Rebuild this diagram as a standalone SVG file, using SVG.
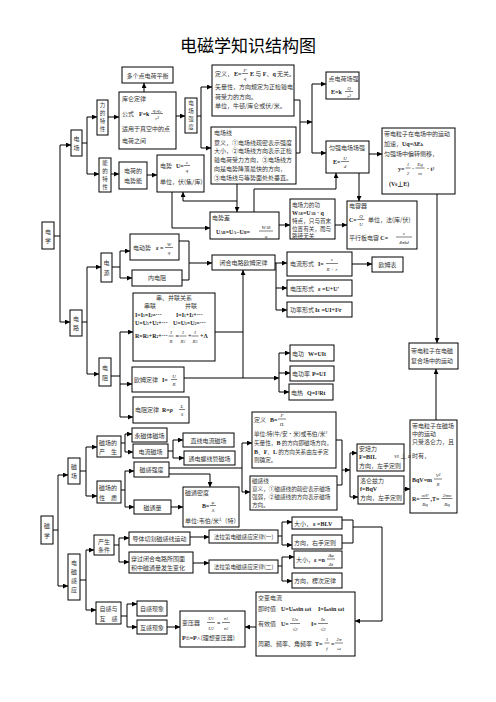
<svg xmlns="http://www.w3.org/2000/svg" width="496" height="702" viewBox="0 0 496 702">
<style>
.b{fill:#fff;stroke:#000;stroke-width:1}
.t{font-family:"Noto Sans CJK SC",sans-serif;font-size:6px;fill:#333}
.v{font-size:5.5px}
.s{font-size:5.6px}
.m{text-anchor:middle}
.f{font-family:"Liberation Serif","Noto Sans CJK SC",serif;font-size:6px;font-weight:bold;fill:#222}
.fi{font-family:"Liberation Serif","Noto Sans CJK SC",serif;font-size:5px;font-style:italic;fill:#222;text-anchor:middle}
.fl{stroke:#000;stroke-width:0.5}
#conn path{fill:none;stroke:#000;stroke-width:1}
.a{marker-end:url(#ar)}
</style>
<defs>
<marker id="ar" markerWidth="5" markerHeight="5" refX="5" refY="2.5" orient="auto" markerUnits="userSpaceOnUse"><path d="M0,0 L5,2.5 L0,5 z" fill="#000"/></marker>
</defs>
<rect width="496" height="702" fill="#fff"/>
<text x="248" y="52" font-family="Noto Sans CJK SC,sans-serif" font-size="17" text-anchor="middle" fill="#000">电磁学知识结构图</text>

<g id="conn">
<path d="M54,236 H60 M60,145 V322"/><path class="a" d="M60,145 H71"/><path class="a" d="M60,322 H70"/>
<path d="M53,530 H58 M58,475 V586"/><path class="a" d="M58,475 H68"/><path class="a" d="M58,586 H68"/>
<path d="M82,143 H87 M87,117 V174"/><path class="a" d="M87,117 H97"/><path class="a" d="M87,174 H99"/>
<path class="a" d="M108,117 H119"/>
<path class="a" d="M144,92 V83"/>
<path class="a" d="M176,116 H185"/>
<path d="M197,116 H201 M201,87 V148"/><path class="a" d="M201,87 H212"/><path class="a" d="M201,148 H211"/>
<path d="M294,100 H300 M296,153 H300 M300,100 V153"/><path class="a" d="M300,122 H312"/>
<path d="M312,84 V153"/><path class="a" d="M312,84 H326"/><path class="a" d="M312,153 H326"/>
<path class="a" d="M369,154 H382"/>
<path class="a" d="M359,173 V201"/>
<path class="a" d="M254,212 V189 H336 V173"/>
<path class="a" d="M237,184 V212"/>
<path class="a" d="M237,201 H183 V192"/>
<path class="a" d="M172,192 V228 H210"/>
<path class="a" d="M111,174 H119"/>
<path class="a" d="M147,175 H157"/>
<path class="a" d="M279,225 H290"/>
<path class="a" d="M335,225 H347"/>
<path class="a" d="M437,194 V343"/>
<path d="M82,322 H87 M87,267 V374"/><path class="a" d="M87,267 H101"/><path class="a" d="M87,374 H99"/>
<path d="M112,267 H120 M120,251 V278"/><path class="a" d="M120,251 H130"/><path class="a" d="M120,278 H132"/>
<path d="M179,241 H189 M182,280 H189 M189,241 V280"/><path class="a" d="M189,263 H212"/>
<path class="a" d="M275,263 H287"/>
<path d="M276,263 V310"/><path class="a" d="M276,288 H287"/><path class="a" d="M276,310 H287"/>
<path class="a" d="M352,264 H372"/>
<path d="M111,376 H120 M120,332 V417"/><path class="a" d="M120,332 H133"/><path class="a" d="M120,384 H132"/><path class="a" d="M120,417 H133"/>
<path d="M215,332 H243"/>
<path class="a" d="M184,378 H279"/>
<path class="a" d="M243,378 V270"/>
<path d="M279,353 V392"/><path class="a" d="M279,353 H290"/><path class="a" d="M279,373 H290"/><path class="a" d="M279,392 H289"/>
<path d="M80,471 H86 M86,447 V496"/><path class="a" d="M86,447 H97"/><path class="a" d="M86,496 H97"/>
<path d="M121,443 H125 M125,434 V452"/><path class="a" d="M125,434 H132"/><path class="a" d="M125,452 H133"/>
<path d="M168,451 H173 M173,440 V458"/><path class="a" d="M173,440 H183"/><path class="a" d="M173,458 H184"/>
<path d="M121,490 H125 M125,471 V507"/><path class="a" d="M125,471 H134"/><path class="a" d="M125,507 H134"/>
<path d="M169,468 H242 M242,443 V492"/><path class="a" d="M242,443 H252"/><path class="a" d="M242,492 H250"/>
<path class="a" d="M169,474 H210 V487"/>
<path class="a" d="M171,507 H183"/>
<path d="M336,440 H342 M337,485 H342 M342,440 V485"/><path class="a" d="M342,470 H350"/>
<path d="M350,453 V497"/><path class="a" d="M350,453 H357"/><path class="a" d="M350,497 H358"/>
<path class="a" d="M404,489 H410"/>
<path class="a" d="M436,420 V369"/>
<path d="M80,580 H86 M86,550 V610"/><path class="a" d="M86,550 H94"/><path class="a" d="M86,610 H96"/>
<path d="M114,545 H119 M119,538 V562"/><path class="a" d="M119,538 H129"/><path class="a" d="M119,562 H129"/>
<path class="a" d="M190,537 H209"/>
<path class="a" d="M193,563 H209"/>
<path d="M278,536 H282 M282,522 V545"/><path class="a" d="M282,522 H292"/><path class="a" d="M282,545 H292"/>
<path d="M278,566 H282 M282,557 V581"/><path class="a" d="M282,557 H294"/><path class="a" d="M282,581 H292"/>
<path d="M342,520 H353 M342,543 H353 M353,520 V543"/>
<path class="a" d="M353,527 H382 V621 H355"/>
<path class="a" d="M256,627 H245"/>
<path d="M121,616 H127 M127,604 V627"/><path class="a" d="M127,604 H137"/><path class="a" d="M127,627 H137"/>
<path class="a" d="M167,627 H180"/>
</g>

<g id="n_dgdc"><rect class="b" x="122" y="67" width="51" height="16"/><text class="t m" x="147.5" y="77.5">多个点电荷平衡</text></g>

<g id="n_kl"><rect class="b" x="119" y="92" width="57" height="57"/>
<text class="t" x="122" y="101">库仑定律</text>
<text class="t" x="122" y="116">公式</text><text class="f" x="139" y="116">F=k</text>
<text class="fi" x="157" y="111.5">q₁q₂</text><line class="fl" x1="151" y1="113.5" x2="163" y2="113.5"/><text class="fi" x="157" y="120">r²</text>
<text class="t" x="122" y="131">适用于真空中的点</text>
<text class="t" x="122" y="143">电荷之间</text></g>

<g id="n_ldtx"><rect class="b" x="97" y="100" width="11" height="35"/>
<text class="t v m"><tspan x="102.5" y="107">力</tspan><tspan x="102.5" y="115">的</tspan><tspan x="102.5" y="123">特</tspan><tspan x="102.5" y="131">性</tspan></text></g>

<g id="n_dcqd"><rect class="b" x="185" y="98" width="12" height="35"/>
<text class="t v m"><tspan x="191" y="105">电</tspan><tspan x="191" y="113">场</tspan><tspan x="191" y="121">强</tspan><tspan x="191" y="129">度</tspan></text></g>

<g id="n_dc"><rect class="b" x="71" y="130" width="11" height="26"/>
<text class="t m"><tspan x="76.5" y="140.5">电</tspan><tspan x="76.5" y="149.5">场</tspan></text></g>

<g id="n_dyE"><rect class="b" x="212" y="65" width="82" height="51"/>
<text class="t" x="215" y="76">定义，</text><text class="f" x="234" y="76">E=</text>
<text class="fi" x="245" y="71.5">F</text><line class="fl" x1="242" y1="73.5" x2="248" y2="73.5"/><text class="fi" x="245" y="80">q</text>
<text class="t" x="250" y="76"><tspan class="f">E</tspan> 与 <tspan class="f">F</tspan>、<tspan class="f">q</tspan> 无关。</text>
<text class="t" x="215" y="89">矢量性，方向规定为正检验电</text>
<text class="t" x="215" y="98.5">荷受力的方向。</text>
<text class="t" x="215" y="108">单位，牛顿/库仑或伏/米。</text></g>

<g id="n_dcx"><rect class="b" x="211" y="127" width="85" height="57"/>
<text class="t" x="214" y="135">电场线</text>
<text class="t" x="214" y="144.5">意义，①电场线疏密表示强度</text>
<text class="t" x="214" y="153">大小，②电场线方向表示正检</text>
<text class="t" x="214" y="162">验电荷受力方向，③电场线方</text>
<text class="t" x="214" y="171">向是电势降落最快的方向，</text>
<text class="t" x="214" y="180">③电场线与等势面处处垂直。</text></g>

<g id="n_ddhcq"><rect class="b" x="326" y="72" width="33" height="27"/>
<text class="t" x="328.5" y="80.5">点电荷场强</text>
<text class="f" x="331" y="93.5">E=k</text>
<text class="fi" x="349" y="89.5">Q</text><line class="fl" x1="345" y1="91.5" x2="353" y2="91.5"/><text class="fi" x="349" y="97.5">r²</text></g>

<g id="n_yqdc"><rect class="b" x="326" y="141" width="43" height="32"/>
<text class="t" x="329" y="149.5">匀强电场场强</text>
<text class="f" x="333" y="164">E=</text>
<text class="fi" x="345" y="159.5">U</text><line class="fl" x1="341" y1="161.5" x2="349" y2="161.5"/><text class="fi" x="345" y="168">d</text></g>

<g id="n_ddlzdc"><rect class="b" x="382" y="128" width="73" height="66"/>
<text class="t" x="384" y="136">带电粒子在电场中的运动</text>
<text class="t" x="384" y="146">加速，<tspan class="f">Uq=ΔE<tspan font-size="4">k</tspan></tspan></text>
<text class="t" x="384" y="155.5">匀强场中偏转侧移，</text>
<text class="f" x="398" y="170.5">y=</text>
<text class="fi" x="408" y="166">1</text><line class="fl" x1="405.5" y1="168" x2="410.5" y2="168"/><text class="fi" x="408" y="174.5">2</text>
<text class="f" x="412" y="170.5">·</text>
<text class="fi" x="420" y="166">Eq</text><line class="fl" x1="415.5" y1="168" x2="424.5" y2="168"/><text class="fi" x="420" y="174.5">m</text>
<text class="f" x="427" y="170.5">· t²</text>
<text class="f" x="389" y="186">(V<tspan font-size="4">0</tspan>⊥E)</text></g>

<g id="n_ndtx"><rect class="b" x="99" y="158" width="12" height="34"/>
<text class="t v m"><tspan x="105" y="165">能</tspan><tspan x="105" y="173">的</tspan><tspan x="105" y="181">特</tspan><tspan x="105" y="189">性</tspan></text></g>

<g id="n_dhdsn"><rect class="b" x="119" y="162" width="28" height="27"/>
<text class="t m" x="133" y="172.5">电荷的</text><text class="t m" x="133" y="183">电势能</text></g>

<g id="n_ds"><rect class="b" x="157" y="155" width="47" height="37"/>
<text class="t" x="160" y="168">电势</text><text class="f" x="176" y="168">U=</text>
<text class="fi" x="187" y="163.5">ε</text><line class="fl" x1="184" y1="165.5" x2="190" y2="165.5"/><text class="fi" x="187" y="172">q</text>
<text class="t" x="160" y="184">单位，伏(焦/库)</text></g>

<g id="n_dsc"><rect class="b" x="210" y="212" width="69" height="27"/>
<text class="t" x="212" y="220">电势差</text>
<text class="f" x="216" y="233.5" font-size="5.5">U<tspan font-size="3.8">AB</tspan>=U<tspan font-size="3.8">A</tspan>−U<tspan font-size="3.8">B</tspan>=</text>
<text class="fi" x="266" y="229">W<tspan font-size="3.8">AB</tspan></text><line class="fl" x1="259" y1="231" x2="273" y2="231"/><text class="fi" x="266" y="237.5">q</text></g>

<g id="n_dclg"><rect class="b" x="290" y="199" width="45" height="40"/>
<text class="t s" x="292" y="206.5">电场力的功</text>
<text class="f" x="292" y="214.5" font-size="5">W<tspan font-size="3.5">AB</tspan>=U<tspan font-size="3.5">AB</tspan> · q</text>
<text class="t s" x="292" y="222.5">特点，只与首末</text>
<text class="t s" x="292" y="230.5">位置有关，而与</text>
<text class="t s" x="292" y="237.5">路径无关</text></g>

<g id="n_drq"><rect class="b" x="347" y="201" width="70" height="48"/>
<text class="t" x="349" y="208">电容器</text>
<text class="f" x="349" y="222">C=</text>
<text class="fi" x="361" y="217.5">Q</text><line class="fl" x1="357.5" y1="219.5" x2="364.5" y2="219.5"/><text class="fi" x="361" y="226">U</text>
<text class="t" x="368" y="222">单位，法(库/伏)</text>
<text class="t" x="349" y="239.5">平行板电容 <tspan class="f">C=</tspan></text>
<text class="fi" x="404" y="234.5">ε</text><line class="fl" x1="396" y1="237" x2="412" y2="237"/><text class="fi" x="404" y="244">4πkd</text></g>

<g id="n_dx"><rect class="b" x="42" y="222" width="12" height="27"/>
<text class="t m"><tspan x="48" y="233.5">电</tspan><tspan x="48" y="243">学</tspan></text></g>

<g id="n_dds"><rect class="b" x="130" y="234" width="49" height="26"/>
<text class="t" x="133" y="250">电动势</text><text class="f" x="156" y="250">ε =</text>
<text class="fi" x="169" y="245.5">W</text><line class="fl" x1="165" y1="247.5" x2="173" y2="247.5"/><text class="fi" x="169" y="254">q</text></g>

<g id="n_dy"><rect class="b" x="101" y="253" width="11" height="29"/>
<text class="t m"><tspan x="106.5" y="264.5">电</tspan><tspan x="106.5" y="274.5">源</tspan></text></g>

<g id="n_ndz"><rect class="b" x="132" y="270" width="50" height="16"/><text class="t m" x="157" y="280">内电阻</text></g>

<g id="n_bhdl"><rect class="b" x="212" y="255" width="63" height="15"/><text class="t m" x="243.5" y="264.5">闭合电路欧姆定律</text></g>

<g id="n_dlxs"><rect class="b" x="287" y="252" width="65" height="24"/>
<text class="t" x="290" y="266">电流形式</text><text class="f" x="318" y="266">I=</text>
<text class="fi" x="332" y="261">ε</text><line class="fl" x1="326" y1="263.5" x2="338" y2="263.5"/><text class="fi" x="332" y="270.5">R + r</text></g>

<g id="n_omb"><rect class="b" x="372" y="257" width="31" height="15"/><text class="t m" x="387.5" y="267">欧姆表</text></g>

<g id="n_dyxs"><rect class="b" x="287" y="280" width="65" height="16"/>
<text class="t" x="290" y="290.5">电压形式</text><text class="f" x="318" y="290.5">ε =U+U'</text></g>

<g id="n_glxs"><rect class="b" x="287" y="302" width="65" height="15"/>
<text class="t" x="290" y="312">功率形式</text><text class="f" x="315" y="312">Iε =UI+I²r</text></g>

<g id="n_dl"><rect class="b" x="70" y="310" width="12" height="26"/>
<text class="t m"><tspan x="76" y="320.5">电</tspan><tspan x="76" y="330">路</tspan></text></g>

<g id="n_cbl"><rect class="b" x="133" y="293" width="82" height="68"/>
<text class="t m" x="174" y="300">串、并联关系</text>
<text class="t" x="144" y="308">串联</text><text class="t" x="185" y="308">并联</text>
<text class="f" x="135" y="316.5" font-size="5">I=I<tspan font-size="3.5">1</tspan>=I<tspan font-size="3.5">2</tspan>=···</text>
<text class="f" x="176" y="316.5" font-size="5">I=I<tspan font-size="3.5">1</tspan>+I<tspan font-size="3.5">2</tspan>+···</text>
<text class="f" x="135" y="325" font-size="5">U=U<tspan font-size="3.5">1</tspan>+U<tspan font-size="3.5">2</tspan>+···</text>
<text class="f" x="173" y="325" font-size="5">U=U<tspan font-size="3.5">1</tspan>=U<tspan font-size="3.5">2</tspan>=···</text>
<text class="f" x="135" y="338" font-size="5">R=R<tspan font-size="3.5">1</tspan>+R<tspan font-size="3.5">2</tspan>+···</text>
<text class="fi" x="171" y="334">1</text><line class="fl" x1="168.5" y1="336" x2="173.5" y2="336"/><text class="fi" x="171" y="342.5">R</text>
<text class="f" x="175.5" y="338">=</text>
<text class="fi" x="183" y="334">1</text><line class="fl" x1="179.5" y1="336" x2="186.5" y2="336"/><text class="fi" x="183" y="342.5">R<tspan font-size="3.5">1</tspan></text>
<text class="f" x="188" y="338">+</text>
<text class="fi" x="195" y="334">1</text><line class="fl" x1="191.5" y1="336" x2="198.5" y2="336"/><text class="fi" x="195" y="342.5">R<tspan font-size="3.5">2</tspan></text>
<text class="f" x="200" y="338">+Λ</text></g>

<g id="n_dz"><rect class="b" x="99" y="358" width="12" height="28"/>
<text class="t m"><tspan x="105" y="369.5">电</tspan><tspan x="105" y="379.5">阻</tspan></text></g>

<g id="n_omdl"><rect class="b" x="132" y="367" width="52" height="25"/>
<text class="t" x="134" y="382">欧姆定律</text><text class="f" x="162" y="382">I=</text>
<text class="fi" x="174" y="377.5">U</text><line class="fl" x1="171" y1="379.5" x2="177" y2="379.5"/><text class="fi" x="174" y="386">R</text></g>

<g id="n_dzdl"><rect class="b" x="133" y="397" width="56" height="26"/>
<text class="t" x="135" y="412">电阻定律</text><text class="f" x="162" y="412">R=<tspan font-style="italic">ρ</tspan></text>
<text class="fi" x="182" y="407.5">L</text><line class="fl" x1="179" y1="409.5" x2="185" y2="409.5"/><text class="fi" x="182" y="416">S</text></g>

<g id="n_dg"><rect class="b" x="290" y="345" width="44" height="16"/>
<text class="t" x="292" y="355.5">电功</text><text class="f" x="308" y="355.5">W=UIt</text></g>
<g id="n_dgl"><rect class="b" x="290" y="366" width="44" height="15"/>
<text class="t" x="292" y="376">电功率</text><text class="f" x="312" y="376">P=UI</text></g>
<g id="n_dr"><rect class="b" x="289" y="384" width="44" height="16"/>
<text class="t" x="291" y="394.5">电热</text><text class="f" x="307" y="394.5">Q=I²Rt</text></g>

<g id="n_fhc"><rect class="b" x="409" y="343" width="49" height="26"/>
<text class="t" x="411" y="352.5">带电粒子在电磁</text><text class="t" x="411" y="363">复合场中的运动</text></g>

<g id="n_cx"><rect class="b" x="41" y="516" width="12" height="28"/>
<text class="t m"><tspan x="47" y="527.5">磁</tspan><tspan x="47" y="537.5">学</tspan></text></g>

<g id="n_cc"><rect class="b" x="68" y="458" width="12" height="26"/>
<text class="t m"><tspan x="74" y="468.5">磁</tspan><tspan x="74" y="478">场</tspan></text></g>

<g id="n_cccs"><rect class="b" x="97" y="436" width="24" height="21"/>
<text class="t" x="99" y="444.5">磁场的</text><text class="t" x="99" y="454">产　生</text></g>

<g id="n_ccxz"><rect class="b" x="97" y="481" width="24" height="22"/>
<text class="t" x="99" y="490">磁场的</text><text class="t" x="99" y="500">性　质</text></g>

<g id="n_yctcc"><rect class="b" x="132" y="428" width="35" height="14"/><text class="t m" x="149.5" y="437.5">永磁体磁场</text></g>
<g id="n_dlcc"><rect class="b" x="133" y="444" width="35" height="14"/><text class="t m" x="150.5" y="453.5">电流磁场</text></g>
<g id="n_zxdl"><rect class="b" x="183" y="433" width="51" height="14"/><text class="t m" x="208.5" y="442.5">直线电流磁场</text></g>
<g id="n_lxg"><rect class="b" x="184" y="451" width="51" height="14"/><text class="t m" x="209.5" y="460.5">通电螺线管磁场</text></g>
<g id="n_cgqd"><rect class="b" x="134" y="462" width="35" height="15"/><text class="t m" x="151.5" y="472">磁感强度</text></g>
<g id="n_ctl"><rect class="b" x="134" y="500" width="37" height="14"/><text class="t m" x="152.5" y="509.5">磁通量</text></g>

<g id="n_ctmd"><rect class="b" x="183" y="487" width="56" height="40"/>
<text class="t" x="185" y="494.5">磁通密度</text>
<text class="f" x="202" y="508">B=</text>
<text class="fi" x="213" y="503.5">φ</text><line class="fl" x1="210" y1="505.5" x2="216" y2="505.5"/><text class="fi" x="213" y="512">S</text>
<text class="t" x="185" y="522.5">单位:韦伯/米²（特）</text></g>

<g id="n_dyB"><rect class="b" x="252" y="412" width="84" height="56"/>
<text class="t" x="254" y="421.5">定义</text><text class="f" x="270" y="421.5">B=</text>
<text class="fi" x="282" y="416.5">F</text><line class="fl" x1="278" y1="419" x2="286" y2="419"/><text class="fi" x="282" y="425.5">IL</text>
<text class="t s" x="254" y="436">单位:特(牛/安·米)或韦伯/米²</text>
<text class="t s" x="254" y="445">矢量性，<tspan class="f">B</tspan> 的方向即磁场方向，</text>
<text class="t s" x="254" y="453.5"><tspan class="f">B</tspan>、<tspan class="f">F</tspan>、<tspan class="f">L</tspan> 的方向关系由左手定</text>
<text class="t s" x="254" y="462">则确定。</text></g>

<g id="n_cgx"><rect class="b" x="250" y="476" width="87" height="34"/>
<text class="t s" x="252" y="482.5">磁感线</text>
<text class="t s" x="252" y="490.5">意义，①磁感线的疏密表示磁场</text>
<text class="t s" x="252" y="498.5">强弱，②磁感线的方向表示磁场</text>
<text class="t s" x="252" y="506.5">方向。</text></g>

<g id="n_apl"><rect class="b" x="357" y="444" width="47" height="27"/>
<text class="t" x="359" y="451">安培力</text>
<text class="f" x="359" y="459">F=BIL</text>
<text class="t" x="359" y="467.5">方向，左手定则</text></g>

<g id="n_llzl"><rect class="b" x="358" y="476" width="46" height="28"/>
<text class="t" x="360" y="483">洛仑兹力</text>
<text class="f" x="360" y="491">f=BqV</text>
<text class="t" x="360" y="500">方向，左手定则</text></g>

<g id="n_ddlzcc"><rect class="b" x="410" y="420" width="47" height="93"/>
<text class="t" x="412" y="427.5">带电粒子在磁场</text>
<text class="t" x="412" y="435.5">中的运动</text>
<text class="t" x="412" y="444">只受洛仑力，且</text>
<text class="t" x="412" y="458"><tspan class="fi">V</tspan><tspan font-size="3.5">0</tspan> ⊥ <tspan class="fi">B</tspan> 时有，</text>
<text class="f" x="412" y="482">BqV=m</text>
<text class="fi" x="438" y="477">V²</text><line class="fl" x1="434" y1="479" x2="442" y2="479"/><text class="fi" x="438" y="486">R</text>
<text class="f" x="412" y="501">R=</text>
<text class="fi" x="425" y="496.5">mV</text><line class="fl" x1="420.5" y1="498.5" x2="429.5" y2="498.5"/><text class="fi" x="425" y="505.5">Bq</text>
<text class="f" x="430.5" y="501">,T=</text>
<text class="fi" x="447" y="496.5">2πm</text><line class="fl" x1="441.5" y1="498.5" x2="452.5" y2="498.5"/><text class="fi" x="447" y="505.5">Bq</text></g>

<g id="n_dcgy"><rect class="b" x="68" y="554" width="12" height="46"/>
<text class="t m"><tspan x="74" y="565">电</tspan><tspan x="74" y="574">磁</tspan><tspan x="74" y="583">感</tspan><tspan x="74" y="592">应</tspan></text></g>

<g id="n_cstj"><rect class="b" x="94" y="535" width="20" height="20"/>
<text class="t m" x="104" y="543.5">产生</text><text class="t m" x="104" y="552">条件</text></g>

<g id="n_dtqg"><rect class="b" x="129" y="532" width="61" height="13"/><text class="t m" x="159.5" y="541">导体切割磁感线运动</text></g>

<g id="n_cgbh"><rect class="b" x="129" y="552" width="64" height="21"/>
<text class="t" x="131" y="560.5">穿过闭合电路所围面</text><text class="t" x="131" y="570">积中磁通量发生变化</text></g>

<g id="n_fld1"><rect class="b" x="209" y="530" width="69" height="13"/><text class="t m s" x="243.5" y="539">法拉第电磁感应定律(一)</text></g>
<g id="n_fld2"><rect class="b" x="209" y="560" width="69" height="13"/><text class="t m s" x="243.5" y="569">法拉第电磁感应定律(二)</text></g>

<g id="n_dx1"><rect class="b" x="292" y="517" width="50" height="12"/>
<text class="t" x="294" y="525.5">大小，</text><text class="f" x="313" y="525.5">ε =BLV</text></g>
<g id="n_fx1"><rect class="b" x="292" y="535" width="50" height="14"/><text class="t" x="294" y="544.5">方向，右手定则</text></g>
<g id="n_dx2"><rect class="b" x="294" y="551" width="48" height="17"/>
<text class="t" x="296" y="562">大小，</text><text class="f" x="314" y="562">ε =n</text>
<text class="fi" x="331" y="557">Δφ</text><line class="fl" x1="327" y1="559" x2="335" y2="559"/><text class="fi" x="331" y="566">Δt</text></g>
<g id="n_fx2"><rect class="b" x="292" y="573" width="50" height="15"/><text class="t" x="294" y="583">方向，楞次定律</text></g>

<g id="n_zgyhg"><rect class="b" x="96" y="602" width="25" height="22"/>
<text class="t m" x="108.5" y="610.5">自感与</text><text class="t m" x="108.5" y="620.5">互　感</text></g>
<g id="n_zgxx"><rect class="b" x="137" y="601" width="30" height="15"/><text class="t m" x="152" y="611">自感现象</text></g>
<g id="n_hgxx"><rect class="b" x="137" y="620" width="30" height="14"/><text class="t m" x="152" y="630">互感现象</text></g>

<g id="n_byq"><rect class="b" x="180" y="611" width="65" height="36"/>
<text class="t" x="182" y="625">变压器</text>
<text class="fi" x="211" y="620">U<tspan font-size="3.5">1</tspan></text><line class="fl" x1="207" y1="622.5" x2="215" y2="622.5"/><text class="fi" x="211" y="629.5">U<tspan font-size="3.5">2</tspan></text>
<text class="f" x="217" y="625">=</text>
<text class="fi" x="226" y="620">n<tspan font-size="3.5">1</tspan></text><line class="fl" x1="222" y1="622.5" x2="230" y2="622.5"/><text class="fi" x="226" y="629.5">n<tspan font-size="3.5">2</tspan></text>
<text class="t" x="182" y="640"><tspan class="f">P</tspan><tspan font-size="4">出</tspan><tspan class="f">=P</tspan><tspan font-size="4">入</tspan>(理想变压器)</text></g>

<g id="n_jbdl"><rect class="b" x="256" y="592" width="99" height="64"/>
<text class="t" x="258" y="600">交变电流</text>
<text class="t" x="258" y="611">即时值</text>
<text class="f" x="281" y="611" font-size="5">U=U<tspan font-size="3.5">m</tspan>sin ωt</text>
<text class="f" x="318" y="611" font-size="5">I=I<tspan font-size="3.5">m</tspan>sin ωt</text>
<text class="t" x="258" y="626">有效值</text>
<text class="f" x="281" y="626">U=</text>
<text class="fi" x="295" y="621">U<tspan font-size="3.5">m</tspan></text><line class="fl" x1="290" y1="623.5" x2="300" y2="623.5"/><text class="fi" x="295" y="630.5">√2</text>
<text class="f" x="311" y="626">I=</text>
<text class="fi" x="323" y="621">I<tspan font-size="3.5">m</tspan></text><line class="fl" x1="318" y1="623.5" x2="328" y2="623.5"/><text class="fi" x="323" y="630.5">√2</text>
<text class="t" x="258" y="645.5">周期、频率、角频率</text>
<text class="f" x="315" y="645.5">T=</text>
<text class="fi" x="327" y="641">1</text><line class="fl" x1="324.5" y1="643" x2="329.5" y2="643"/><text class="fi" x="327" y="650">f</text>
<text class="f" x="331" y="645.5">=</text>
<text class="fi" x="339" y="641">2π</text><line class="fl" x1="335" y1="643" x2="343" y2="643"/><text class="fi" x="339" y="650">ω</text></g>
</svg>
